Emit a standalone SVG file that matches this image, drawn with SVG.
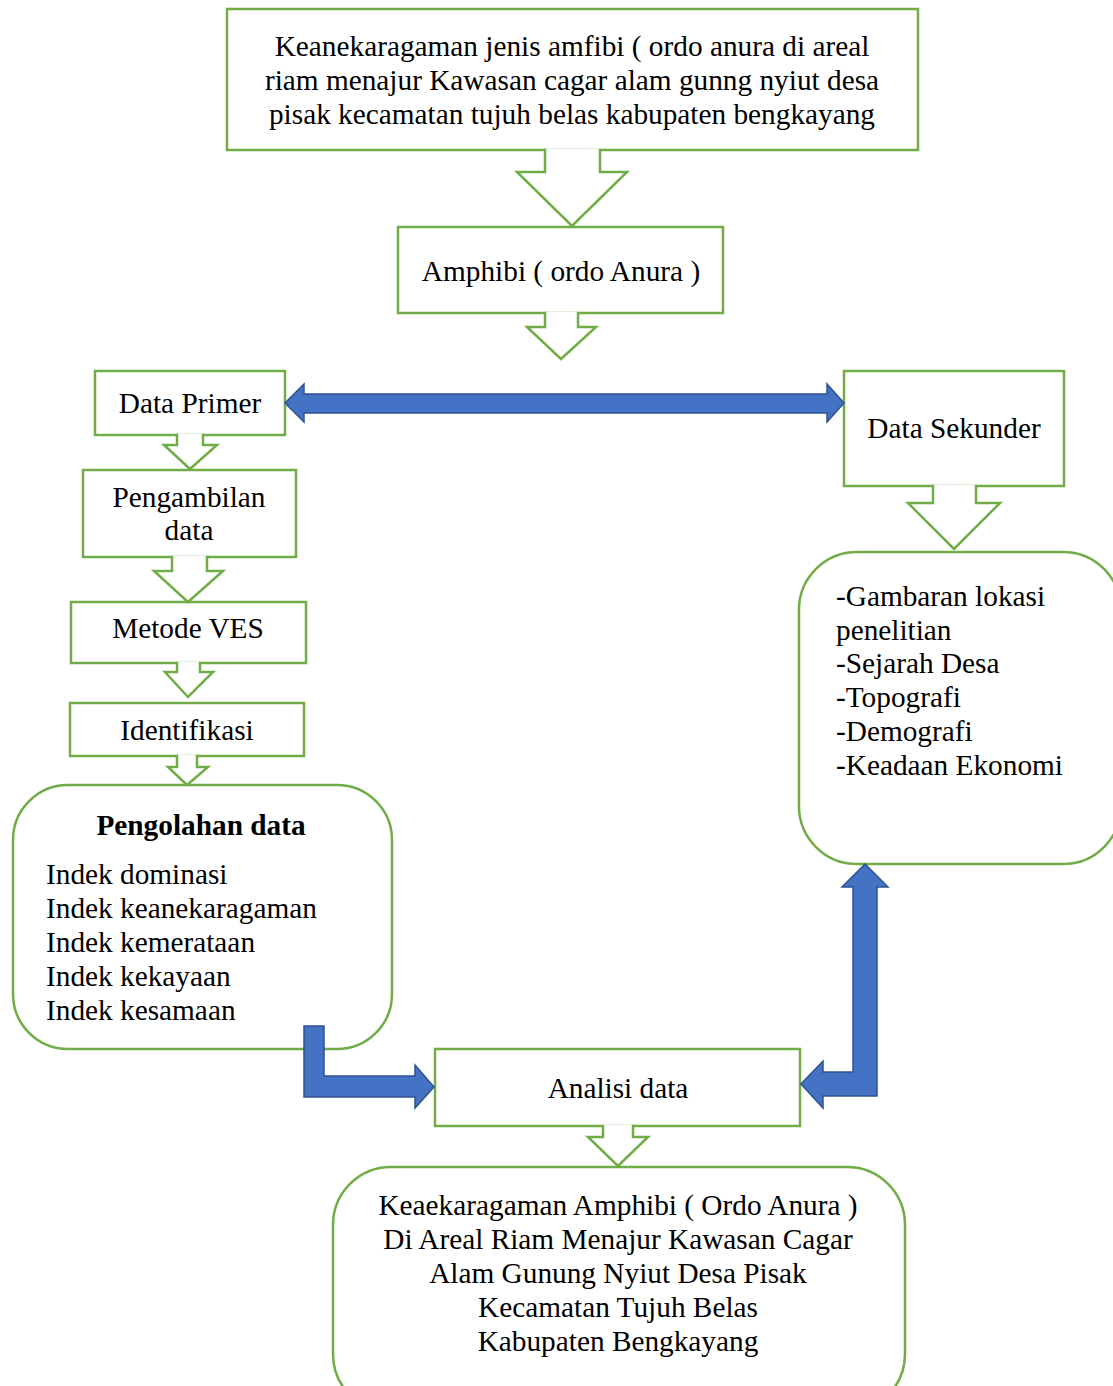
<svg xmlns="http://www.w3.org/2000/svg" width="1113" height="1386" viewBox="0 0 1113 1386">
<style>
.box{fill:#ffffff;stroke:#70AD47;stroke-width:2.5}
.harrow{fill:#ffffff;stroke:#70AD47;stroke-width:2.5;stroke-linejoin:miter}
.barrow{fill:#4472C4;stroke:#2F528F;stroke-width:1.5;stroke-linejoin:miter}
text{font-family:"Liberation Serif","Times New Roman",serif;font-size:29.3px;fill:#000000}
.c{text-anchor:middle}
.b{font-weight:bold}
</style>
<rect width="1113" height="1386" fill="#ffffff"/>
<g id="node-top">
<rect class="box" x="227" y="9" width="691" height="141"/>
<text class="c" x="572" y="56">Keanekaragaman jenis amfibi ( ordo anura di areal</text>
<text class="c" x="572" y="90">riam menajur Kawasan cagar alam gunng nyiut desa</text>
<text class="c" x="572" y="124">pisak kecamatan tujuh belas kabupaten bengkayang</text>
</g>
<g id="node-amphibi">
<rect class="box" x="398" y="227" width="325" height="86"/>
<text class="c" x="561" y="281">Amphibi ( ordo Anura )</text>
</g>
<g id="node-primer">
<rect class="box" x="95" y="371" width="190" height="64"/>
<text class="c" x="190" y="413">Data Primer</text>
</g>
<g id="node-pengambilan">
<rect class="box" x="83" y="470" width="213" height="87"/>
<text class="c" x="189" y="507">Pengambilan</text>
<text class="c" x="189" y="540">data</text>
</g>
<g id="node-metode">
<rect class="box" x="71" y="602" width="235" height="61"/>
<text class="c" x="188" y="638">Metode VES</text>
</g>
<g id="node-identifikasi">
<rect class="box" x="70" y="703" width="234" height="53"/>
<text class="c" x="187" y="740">Identifikasi</text>
</g>
<g id="node-pengolahan">
<rect class="box" x="13" y="785" width="379" height="264" rx="55" ry="55"/>
<text class="c b" x="201" y="835">Pengolahan data</text>
<text x="46" y="884">Indek dominasi</text>
<text x="46" y="918">Indek keanekaragaman</text>
<text x="46" y="952">Indek kemerataan</text>
<text x="46" y="986">Indek kekayaan</text>
<text x="46" y="1020">Indek kesamaan</text>
</g>
<g id="node-sekunder">
<rect class="box" x="844" y="371" width="220" height="115"/>
<text class="c" x="954" y="438">Data Sekunder</text>
</g>
<g id="node-sekunder-detail">
<rect class="box" x="799" y="552" width="322" height="312" rx="58" ry="58"/>
<text x="836" y="606">-Gambaran lokasi</text>
<text x="836" y="640">penelitian</text>
<text x="836" y="673">-Sejarah Desa</text>
<text x="836" y="707">-Topografi</text>
<text x="836" y="741">-Demografi</text>
<text x="836" y="775">-Keadaan Ekonomi</text>
</g>
<g id="node-analisi">
<rect class="box" x="435" y="1049" width="365" height="77"/>
<text class="c" x="618" y="1098">Analisi data</text>
</g>
<g id="node-hasil">
<rect class="box" x="333" y="1167" width="572" height="245" rx="58" ry="58"/>
<text class="c" x="618" y="1215">Keaekaragaman Amphibi ( Ordo Anura )</text>
<text class="c" x="618" y="1249">Di Areal Riam Menajur Kawasan Cagar</text>
<text class="c" x="618" y="1283">Alam Gunung Nyiut Desa Pisak</text>
<text class="c" x="618" y="1317">Kecamatan Tujuh Belas</text>
<text class="c" x="618" y="1351">Kabupaten Bengkayang</text>
</g>
<g id="connectors">
<path class="harrow" d="M545,148.7 L545,172 L517,172 L572,226 L627,172 L600,172 L600,148.7"/>
<path class="harrow" d="M545,311.7 L545,327 L527,327 L561,359 L596,327 L578,327 L578,311.7"/>
<path class="harrow" d="M177,433.7 L177,445 L164,445 L190,469 L217,445 L203,445 L203,433.7"/>
<path class="harrow" d="M172,555.7 L172,571 L154,571 L188,602 L223,571 L207,571 L207,555.7"/>
<path class="harrow" d="M177,661.7 L177,672 L165,672 L188,697 L213,672 L200,672 L200,661.7"/>
<path class="harrow" d="M177,754.7 L177,767 L168,767 L187,785 L208,767 L197,767 L197,754.7"/>
<path class="harrow" d="M933,484.7 L933,503 L908,503 L954,549 L1000,503 L976,503 L976,484.7"/>
<path class="harrow" d="M603,1124.7 L603,1137 L588,1137 L618,1166 L648,1137 L633,1137 L633,1124.7"/>
<polygon class="barrow" points="285,403 304,384 304,394 827,394 827,384 844,403 827,422 827,413 304,413 304,422"/>
<polygon class="barrow" points="304,1026 324,1026 324,1076 415,1076 415,1065 434,1087 415,1108 415,1097 304,1097"/>
<polygon class="barrow" points="865,864 888,887 877,887 877,1096 823,1096 823,1108 801,1084 823,1061 823,1072 853,1072 853,887 842,887"/>
</g>
</svg>
